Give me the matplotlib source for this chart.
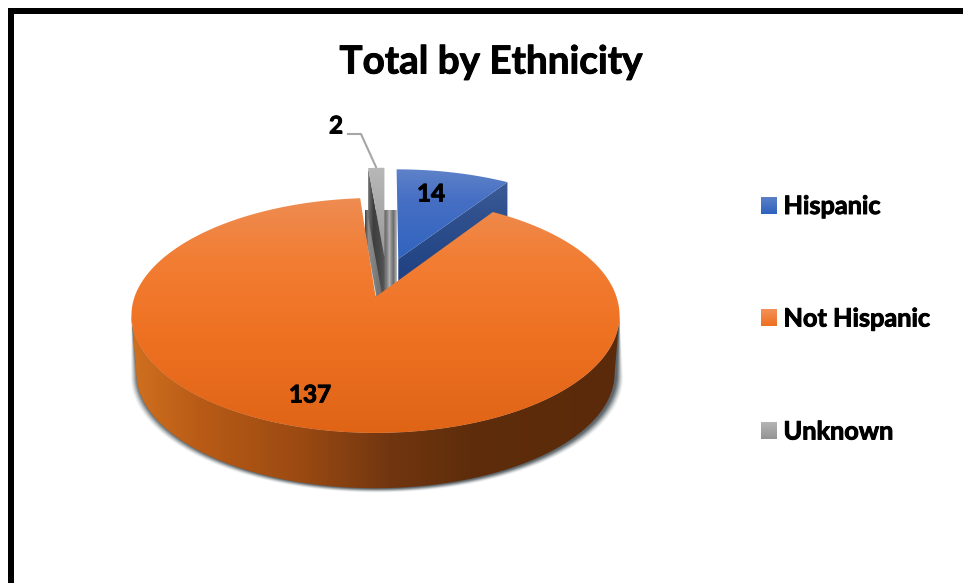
import numpy as np
import matplotlib
matplotlib.use("Agg")
import matplotlib.pyplot as plt
import matplotlib.patheffects as pe
from matplotlib.patches import Polygon, Rectangle
from matplotlib.colors import to_rgb

plt.rcParams['font.family'] = ['Lato', 'DejaVu Sans']

# ---- data ----
title_text = "Total by Ethnicity"
categories = ["Hispanic", "Not Hispanic", "Unknown"]
values = [14, 137, 2]
legend_swatch = [("#5B80C8", "#2F62BE"), ("#F39058", "#EE7020"), ("#B4B4B4", "#949494")]

W, H = 963, 583
fig = plt.figure(figsize=(W / 100, H / 100), dpi=100)
ax = fig.add_axes([0, 0, 1, 1])
ax.set_xlim(0, W)
ax.set_ylim(H, 0)
ax.axis("off")

# ---- projection of the unit-disc pie into the picture ----
CX, CY = 375.5, 297.0
A, B, K = 241.0, 114.6, 0.157
DEPTH = 58.0
SHRINK = 0.98
BOLD = [pe.withStroke(linewidth=0.7, foreground="black")]


def proj(u, v):
    d = 1 + K * v
    return CX + A * u / d + 1.8 * np.clip(v, 0, 1), CY - B * v / d


def drop(x, y):
    return CX + (x - CX) * SHRINK, CY + (y - CY) * SHRINK + DEPTH


def arc(a0, a1, n=240, du=0.0, dv=0.0):
    t = np.radians(np.linspace(a0, a1, n))
    return proj(np.sin(t) + du, np.cos(t) + dv)


_z = [1]


def zo():
    _z[0] += 1
    return _z[0]


def grad_v(poly, stops):
    """Vertical gradient clipped to a polygon; stops = [(y, colour), ...]."""
    ys = np.arange(0, H)
    rgb = np.array([to_rgb(c) for _, c in stops])
    pos = [p for p, _ in stops]
    img = np.stack([np.interp(ys, pos, rgb[:, i]) for i in range(3)], axis=1)[:, None, :]
    im = ax.imshow(img, extent=(0, W, H, 0), aspect="auto", interpolation="bilinear", zorder=zo())
    im.set_clip_path(Polygon(poly, closed=True, transform=ax.transData))


def grad_h(poly, stops):
    xs = np.arange(0, W)
    rgb = np.array([to_rgb(c) for _, c in stops])
    pos = [p for p, _ in stops]
    img = np.stack([np.interp(xs, pos, rgb[:, i]) for i in range(3)], axis=1)[None, :, :]
    im = ax.imshow(img, extent=(0, W, H, 0), aspect="auto", interpolation="bilinear", zorder=zo())
    im.set_clip_path(Polygon(poly, closed=True, transform=ax.transData))


total = sum(values)
sweeps = [v / total * 360 for v in values]
a_h0, a_h1 = 0.0, sweeps[0]
a_o0, a_o1 = a_h1, a_h1 + sweeps[1]
a_u0, a_u1 = a_o1, 360.0

# ---- blue slice ----
bdu, bdv = 0.097, 0.35
bx, by = arc(a_h0, a_h1, du=bdu, dv=bdv)
bap = proj(bdu, bdv)
bdep = 52
grad_v([(bx[-1], by[-1]), bap, (bap[0], bap[1] + bdep), (bx[-1], by[-1] + bdep)],
       [(180, "#3B5C96"), (220, "#2E4F8C"), (290, "#1D3F80")])
grad_v(list(zip(bx, by)) + [bap],
       [(168, "#5F83C9"), (200, "#466FC4"), (262, "#2F63BE")])

# ---- stripes seen in the gap ----
grad_h([(365, 210), (397, 210), (397, 300), (365, 300)],
       [(365, "#4A4A4A"), (368, "#8C8C8C"), (384, "#6A6A6A"), (386, "#7A7A7A"),
        (389, "#B0B0B0"), (391, "#8A8A8A"), (393, "#6E6E6E"), (395, "#9A9A9A"), (397, "#D0D0D0")])

# ---- grey slice ----
gdu, gdv = 0.036, 0.37
gx, gy = arc(a_u0, a_u1, n=20, du=gdu, dv=gdv)
gap = proj(gdu, gdv)
grad_h([(gx[0], gy[0]), gap, (gap[0], gap[1] + 50), (gx[0], gy[0] + 50)],
       [(368, "#6E6E6E"), (373, "#3E3E3E"), (380, "#4A4A4A"), (385, "#5A5A5A")])
grad_v(list(zip(gx, gy)) + [gap], [(167, "#B8B8B8"), (260, "#989898")])

# ---- orange slice ----
ox, oy = arc(a_o0, a_o1, n=720)
oap = proj(0.0, 0.0)
fx, fy = arc(99, 261, n=400)
dx, dy = drop(fx, fy)
side = list(zip(fx, fy)) + list(zip(dx[::-1], dy[::-1]))

# soft shadow under the body
for grow, alpha in [(7.0, 0.06), (6.0, 0.10), (5.0, 0.14), (4.0, 0.2), (3.0, 0.28), (2.0, 0.35), (1.0, 0.4)]:
    sx = 376.5 + (dx - 375) * (1 + grow / 240)
    sy = dy + grow * 0.6
    ax.add_patch(Polygon(list(zip(sx, sy)) + list(zip(fx[::-1], fy[::-1])), closed=True,
                         facecolor="#404A50", edgecolor="none", alpha=alpha, zorder=zo()))

grad_h(side, [(131, "#D0701F"), (200, "#B85B16"), (300, "#9B4A12"), (390, "#713610"),
              (470, "#5F2D0B"), (620, "#5A2A0A")])
ax.plot([oap[0] - 15, oap[0]], [oap[1] - 85, oap[1] - 2], color="#DCDCDC", lw=1.0, zorder=zo())
grad_v(list(zip(ox, oy)) + [oap],
       [(198, "#EE8C52"), (260, "#F27D33"), (330, "#EF7223"), (433, "#E06416")])

# ---- data labels and leader ----
ax.plot([348, 361, 376], [134, 134, 167], color="#A6A6A6", lw=1.5, zorder=zo())
label_xy = [(431, 194), (310, 395), (336, 126)]
for val, (lx, ly) in zip(values, label_xy):
    ax.text(lx, ly, str(val), fontsize=17.5, fontweight="bold", color="black",
            ha="center", va="center", zorder=zo(), path_effects=BOLD)

# ---- legend ----
legend_y = [205.5, 318, 431]
for name, y, (c0, c1) in zip(categories, legend_y, legend_swatch):
    rgb0, rgb1 = np.array(to_rgb(c0)), np.array(to_rgb(c1))
    img = np.linspace(rgb0, rgb1, 32)[:, None, :]
    ax.imshow(img, extent=(761, 777, y + 8.5, y - 8.5), aspect="auto", zorder=zo())
    ax.text(783.5, y + 1, name, fontsize=18.2, fontweight="bold", color="black",
            ha="left", va="center", zorder=zo(), path_effects=BOLD)
ax.set_xlim(0, W)
ax.set_ylim(H, 0)

# ---- title ----
ax.text(491, 62, title_text, fontsize=27.8, fontweight="bold", color="black",
        ha="center", va="center", zorder=zo(), path_effects=BOLD)

# ---- frame ----
ax.add_patch(Rectangle((8, 8), W - 8, 6.3, facecolor="black", edgecolor="none", zorder=zo()))
ax.add_patch(Rectangle((8, 8), 6, H - 8, facecolor="black", edgecolor="none", zorder=zo()))

fig.savefig("out.png", dpi=100, facecolor="white")
